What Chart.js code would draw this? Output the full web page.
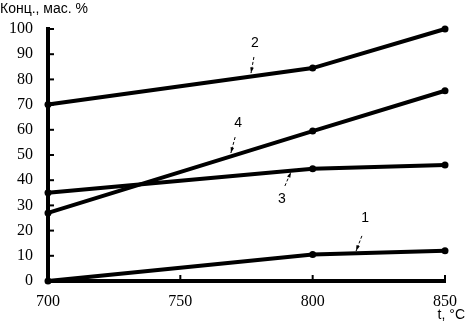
<!DOCTYPE html>
<html>
<head>
<meta charset="utf-8">
<script src="https://cdn.jsdelivr.net/npm/chart.js@4/dist/chart.umd.min.js"></script>
<style>
  html, body { margin: 0; padding: 0; background: #fff; }
  #wrap { width: 465px; height: 328px; }
</style>
</head>
<body>
<div id="wrap"><canvas id="chart" width="465" height="328"></canvas></div>
<script>
// ===== Data =====
const temps = [700, 800, 850];
const curve1 = [0, 10.5, 12];
const curve2 = [70, 84.5, 100];
const curve3 = [35, 44.5, 46];
const curve4 = [27, 59.5, 75.5];
const curveNames = ["1", "2", "3", "4"];
const xTicks = [700, 750, 800, 850];
const yTicks = [0, 10, 20, 30, 40, 50, 60, 70, 80, 90, 100];

// curve label: text spot, leader start, leader tip (t, value)
const labelSpots = [
  { text: "1", at: [819.8, 25], from: [818.6, 17.9], tip: [816.4, 11.9] },
  { text: "2", at: [778.2, 94.4], from: [777.8, 88.9], tip: [776.7, 82.5] },
  { text: "3", at: [788.4, 32.5], from: [789.5, 37.7], tip: [791.8, 43.3] },
  { text: "4", at: [771.8, 62.7], from: [770.7, 57.1], tip: [769.1, 50.8] },
];

const toPoints = (vals) => vals.map((v, i) => ({ x: temps[i], y: v }));

const serif = "'Liberation Serif', 'Times New Roman', serif";
const sans = "'Liberation Sans', Arial, sans-serif";

const lineStyle = {
  borderColor: "#000",
  backgroundColor: "#000",
  borderWidth: 4,
  pointRadius: 3.5,
  pointBorderWidth: 0,
  pointHoverRadius: 3.5,
  pointBackgroundColor: "#000",
  tension: 0,
  fill: false,
  clip: false,
};

// ===== Plugins =====
const decor = {
  id: "decor",
  afterDraw(chart) {
    const { ctx, chartArea: a } = chart;
    const xs = chart.scales.x, ys = chart.scales.y;
    const px = (p) => [xs.getPixelForValue(p[0]), ys.getPixelForValue(p[1])];
    ctx.save();
    ctx.strokeStyle = "#000";
    ctx.fillStyle = "#000";

    // inward ticks
    ctx.lineWidth = 2;
    yTicks.forEach((v) => {
      const py = ys.getPixelForValue(v);
      ctx.beginPath();
      ctx.moveTo(a.left, py);
      ctx.lineTo(a.left + 6, py);
      ctx.stroke();
    });
    xTicks.forEach((v) => {
      const x = xs.getPixelForValue(v);
      ctx.beginPath();
      ctx.moveTo(x, a.bottom);
      ctx.lineTo(x, a.bottom - 6);
      ctx.stroke();
    });

    // curve labels with leader arrows
    ctx.font = "14px " + sans;
    ctx.textAlign = "center";
    ctx.textBaseline = "middle";
    labelSpots.forEach((s) => {
      const [lx, ly] = px(s.at);
      const [sx, sy] = px(s.from);
      const [tx, ty] = px(s.tip);
      ctx.fillText(s.text, lx, ly);
      ctx.lineWidth = 1;
      ctx.setLineDash([3, 2]);
      ctx.beginPath();
      ctx.moveTo(sx, sy);
      ctx.lineTo(tx, ty);
      ctx.stroke();
      ctx.setLineDash([]);
      const ang = Math.atan2(ty - sy, tx - sx);
      ctx.beginPath();
      ctx.moveTo(tx, ty);
      ctx.lineTo(tx - 6 * Math.cos(ang - 0.3), ty - 6 * Math.sin(ang - 0.3));
      ctx.lineTo(tx - 6 * Math.cos(ang + 0.3), ty - 6 * Math.sin(ang + 0.3));
      ctx.closePath();
      ctx.fill();
    });

    // axis titles
    ctx.font = "14px " + sans;
    ctx.textAlign = "left";
    ctx.fillText("Конц., мас. %", 0, 9);
    ctx.textAlign = "right";
    ctx.fillText("t, °C", 465, 315);
    ctx.restore();
  },
};

// ===== Chart =====
new Chart(document.getElementById("chart"), {
  type: "line",
  data: {
    datasets: [curve1, curve2, curve3, curve4].map((c, i) => ({
      label: curveNames[i],
      data: toPoints(c),
      ...lineStyle,
    })),
  },
  options: {
    responsive: false,
    animation: false,
    events: [],
    layout: { padding: { top: 29, right: 20, left: 0, bottom: 0 } },
    plugins: { legend: { display: false }, tooltip: { enabled: false } },
    scales: {
      x: {
        type: "linear",
        min: 700,
        max: 850,
        afterFit: (s) => { s.height = 47; },
        afterBuildTicks: (s) => { s.ticks = xTicks.map((v) => ({ value: v })); },
        grid: { display: false },
        border: { display: true, color: "#000", width: 4 },
        ticks: {
          color: "#000",
          padding: 3,
          font: { family: serif, size: 16 },
        },
      },
      y: {
        min: 0,
        max: 100,
        afterFit: (s) => { s.width = 48; },
        afterBuildTicks: (s) => { s.ticks = yTicks.map((v) => ({ value: v })); },
        grid: { display: false },
        border: { display: true, color: "#000", width: 4 },
        ticks: {
          color: "#000",
          padding: 7,
          font: { family: serif, size: 16 },
        },
      },
    },
  },
  plugins: [decor],
});
</script>
</body>
</html>
